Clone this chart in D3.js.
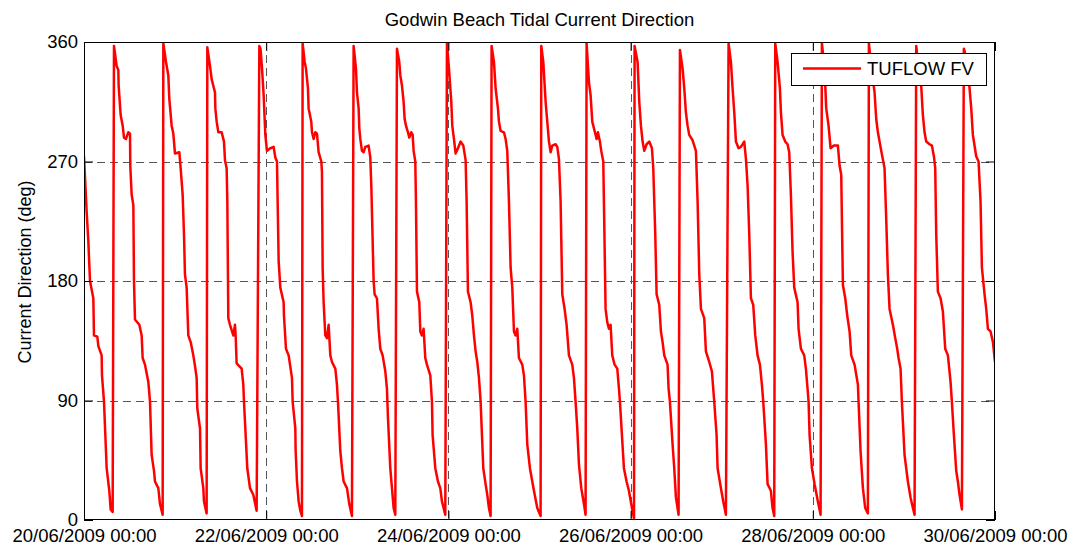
<!DOCTYPE html>
<html>
<head>
<meta charset="utf-8">
<script src="https://cdn.jsdelivr.net/npm/d3@7"></script>
<style>
  html, body { margin: 0; padding: 0; background: #fff; }
  svg { display: block; }
  text { font-family: "Liberation Sans", Arial, Helvetica, sans-serif; fill: #000; }
</style>
</head>
<body>
<svg id="chart" width="1079" height="549"></svg>
<script>
// Modelled current direction at Godwin Beach, hours after 20/06/2009 00:00
const hours = [
  0.00, 0.70, 1.14, 1.58, 2.46, 2.63, 3.51, 3.78, 4.65, 4.74, 5.27, 5.97, 6.67, 7.02, 7.55,
  7.90, 8.60, 9.04, 9.13, 9.66, 10.19, 10.54, 11.06, 11.68, 12.12, 12.20, 12.56, 13.00, 13.17, 13.43,
  14.58, 15.19, 15.45, 16.07, 16.95, 17.39, 17.82, 18.44, 18.70, 19.58, 20.02, 20.72,
  20.90, 21.60, 22.21, 22.48, 23.09, 23.53, 23.97, 25.11, 25.46, 25.99, 26.34, 26.60, 27.04, 27.48,
  28.10, 28.80, 29.24, 29.68, 29.85, 30.56, 30.73, 31.43, 31.61, 32.31,
  32.49, 33.19, 33.63, 34.51, 34.60, 34.95, 35.39, 36.26, 36.88, 37.14, 37.58, 37.76, 38.02, 38.46,
  39.34, 39.78, 39.95, 40.21, 41.53, 41.97, 42.15, 43.02, 43.73, 44.60, 45.04, 45.48,
  46.19, 46.50, 46.90, 47.33, 47.77, 48.20, 49.08, 49.96, 50.40, 50.84, 51.28, 51.72, 52.59, 52.68,
  53.21, 53.91, 54.79, 54.97, 55.67, 55.76, 56.11, 56.55, 56.99, 57.42,
  57.60, 58.13, 58.48, 59.00, 59.18, 59.88, 60.06, 60.50, 60.94, 61.38, 61.81, 62.52, 62.69, 62.87,
  63.13, 63.57, 64.01, 64.45, 64.89, 65.33, 66.21, 66.64, 66.91, 67.52, 67.96, 68.40, 69.28, 69.89, 70.59,
  71.03, 71.65, 71.91, 72.35, 72.53, 72.79, 73.23, 73.67, 74.11, 74.98, 75.42, 75.69, 76.30, 76.56,
  77.18, 77.62, 78.06, 78.67, 79.38, 79.81, 80.08, 80.69, 81.13, 81.57, 82.01,
  82.45, 83.06, 83.33, 83.77, 84.20, 84.47, 84.82, 85.35, 85.70, 86.22, 86.58, 86.84, 87.28, 87.45,
  87.72, 88.33, 88.60, 89.03, 89.47, 89.91, 90.35, 91.23, 91.67, 91.84, 92.55, 93.25, 93.86, 94.30, 95.18,
  95.62, 96.15, 96.76, 97.02, 97.46, 97.90, 98.52, 99.22, 99.92, 100.54, 100.80, 101.15, 101.85,
  102.29, 102.73, 103.17, 103.61, 104.05, 104.49, 105.19, 105.80, 106.24, 106.68, 107.12,
  107.38, 108.00, 108.44, 109.05, 109.32, 109.76, 110.63, 111.07, 111.51, 111.95, 112.39, 112.83,
  113.27, 113.71, 114.15, 114.58, 115.46, 115.90, 116.34, 116.78, 117.48, 118.10, 118.54, 119.41, 120.29,
  120.47, 121.00, 121.61, 122.05, 122.49, 122.93, 123.37, 124.24, 124.68, 125.12, 125.56, 126.00,
  126.61, 127.14, 127.76, 128.63, 129.07, 129.51, 129.95, 130.39, 131.00, 131.71, 132.14,
  132.41, 133.02, 133.46, 133.90, 134.52, 135.04, 135.39, 135.92, 136.27, 136.80, 136.97, 137.41,
  137.85, 138.29, 138.73, 139.17, 139.78, 140.49, 140.93, 141.19, 142.24, 142.94, 143.56, 144.35, 144.90,
  145.05, 145.84, 146.28, 146.72, 147.16, 147.60, 148.21, 148.92, 149.62, 149.97, 150.50, 150.85,
  151.55, 151.99, 152.43, 152.87, 153.74, 154.01, 154.36, 155.06, 155.50, 155.94, 156.64,
  157.00, 157.70, 158.14, 158.57, 159.01, 159.45, 160.33, 161.21, 161.65, 162.09, 162.53,
  163.40, 163.84, 164.72, 165.42, 165.77, 166.04, 166.65, 166.92, 167.79, 168.41, 169.11,
  169.81, 170.43, 170.87, 171.31, 171.75, 172.45, 173.06, 173.94, 174.38, 174.82, 175.26, 175.70,
  176.31, 176.84, 177.45, 178.07, 178.59, 178.95, 179.65, 180.09, 180.96, 181.40, 181.84,
  182.11, 182.72, 183.34, 183.60, 184.04, 184.74, 185.35, 185.79, 186.23, 186.67, 187.11,
  187.99, 188.25, 188.87, 189.74, 190.18, 190.62, 190.89, 191.15, 191.77, 192.47, 193.34, 194.05,
  194.40, 195.10, 195.54, 196.15, 196.68, 197.56, 198.61, 199.05, 199.49, 199.93,
  200.55, 201.07, 201.69, 202.13, 203.00, 203.88, 204.06, 204.58, 205.20, 205.81, 206.51,
  206.78, 207.39, 208.27, 208.71, 209.15, 210.03, 210.90, 211.34, 211.78, 212.22,
  213.10, 213.72, 214.24, 214.59, 215.12, 215.47, 216.17, 217.05, 217.75, 218.37, 218.81,
  219.25, 219.86, 220.56, 221.00, 221.44, 221.88, 222.76, 223.37, 223.90, 224.25, 224.52, 224.95,
  225.66, 226.27, 226.89, 227.59, 228.29, 228.64, 229.17, 229.79, 230.22, 230.66, 231.28,
  231.80, 232.68, 233.30, 233.74, 234.17, 235.05, 235.67, 236.19, 236.55, 237.25, 237.69,
  238.13, 238.83, 239.45, 240.00
];

// Current direction (degrees)
const direction = [
  274, 232, 210, 180, 167, 139, 138, 131, 124, 109, 89, 39, 22, 8, 6,
  357, 342, 339, 327, 305, 297, 288, 287, 292, 291, 266, 245, 237, 180, 151,
  147, 139, 122, 117, 104, 89, 49, 37, 29, 24, 12, 4,
  359, 345, 335, 317, 297, 291, 276, 277, 265, 245, 215, 185, 175, 139,
  134, 124, 116, 107, 84, 69, 39, 24, 14, 5,
  356, 342, 332, 322, 310, 300, 292, 292, 285, 271, 265, 240, 152, 147,
  139, 147, 139, 118, 114, 102, 89, 39, 24, 19, 13, 7,
  357, 355, 340, 320, 290, 278, 280, 281, 273, 270, 195, 175, 164, 154,
  129, 124, 107, 89, 69, 52, 29, 14, 7, 3,
  359, 345, 340, 325, 310, 300, 292, 287, 292, 291, 277, 270, 262, 190,
  164, 139, 137, 147, 124, 119, 114, 102, 89, 52, 39, 29, 24, 12, 3,
  357, 340, 322, 310, 295, 287, 278, 277, 281, 282, 273, 252, 180, 170,
  167, 144, 129, 124, 112, 99, 77, 39, 24, 9, 4,
  355, 345, 335, 327, 315, 302, 297, 292, 288, 292, 290, 278, 270, 240,
  172, 164, 142, 139, 144, 122, 117, 109, 89, 64, 39, 29, 24, 14, 4,
  359, 340, 315, 297, 287, 276, 280, 285, 282, 271, 240, 172, 164,
  154, 139, 127, 119, 107, 89, 39, 27, 19, 9, 3,
  357, 345, 325, 310, 300, 293, 292, 287, 278, 240, 190, 175,
  142, 139, 144, 122, 117, 109, 89, 57, 39, 29, 22, 9, 3,
  357, 345, 315, 300, 285, 277, 282, 283, 281, 272, 240, 170,
  159, 147, 124, 117, 107, 89, 69, 42, 24, 12, 4,
  359, 330, 320, 300, 293, 287, 292, 285, 278, 270, 240, 159,
  149, 144, 147, 124, 117, 114, 99, 89, 39, 29, 22, 9, 1,
  357, 345, 315, 297, 285, 278, 283, 285, 280, 265, 215, 170,
  162, 142, 134, 124, 117, 99, 89, 57, 39, 17, 4,
  354, 340, 325, 307, 297, 290, 286, 278, 240, 185, 159,
  152, 127, 119, 112, 99, 89, 64, 39, 24, 14, 4,
  359, 345, 325, 307, 285, 280, 281, 285, 272, 252, 215, 167,
  162, 139, 124, 117, 102, 89, 57, 27, 22, 9, 3,
  359, 345, 325, 307, 290, 285, 283, 277, 245, 202, 175,
  164, 144, 129, 124, 114, 99, 89, 64, 39, 27, 14, 4,
  359, 340, 310, 297, 280, 282, 282, 267, 260, 177,
  167, 154, 142, 124, 117, 102, 89, 52, 24, 9, 5,
  359, 342, 322, 302, 292, 278, 265, 227, 185, 159,
  147, 137, 129, 122, 114, 89, 49, 29, 17, 9, 4,
  357, 340, 327, 305, 292, 285, 283, 282, 274, 265, 215, 172,
  167, 157, 129, 124, 104, 89, 64, 37, 29, 19, 8,
  355, 345, 325, 310, 290, 274, 270, 240, 190, 170, 159,
  144, 142, 134, 119
];

const xTickDays = [20, 22, 24, 26, 28, 30];
const yTicks = [0, 90, 180, 270, 360];
const seriesName = "TUFLOW FV";
const chartTitle = "Godwin Beach Tidal Current Direction";
const yTitle = "Current Direction (deg)";

const t0 = Date.UTC(2009, 5, 20, 0, 0);
const points = hours.map((h, i) => ({ t: new Date(t0 + h * 3600e3), v: direction[i] }));
const xTickDates = xTickDays.map(d => new Date(Date.UTC(2009, 5, d, 0, 0)));

const W = 1079, H = 549;
const plot = { left: 84, right: 995, top: 42, bottom: 520 };
const fontSize = "18.5px";

const svg = d3.select("#chart");

const x = d3.scaleUtc()
  .domain([xTickDates[0], xTickDates[xTickDates.length - 1]])
  .range([plot.left, plot.right]);
const y = d3.scaleLinear().domain([0, 360]).range([plot.bottom, plot.top]);

// dashed grid
const grid = svg.append("g").attr("stroke", "#555").attr("stroke-width", 1)
  .attr("stroke-dasharray", "8,5").attr("fill", "none");
grid.selectAll("line.gx").data(xTickDates.slice(1, -1)).join("line")
  .attr("x1", d => Math.round(x(d)) + 0.5).attr("x2", d => Math.round(x(d)) + 0.5)
  .attr("y1", plot.top).attr("y2", plot.bottom);
grid.selectAll("line.gy").data(yTicks.slice(1, -1)).join("line")
  .attr("y1", d => Math.round(y(d)) + 0.5).attr("y2", d => Math.round(y(d)) + 0.5)
  .attr("x1", plot.left).attr("x2", plot.right);

// series
svg.append("clipPath").attr("id", "plotClip").append("rect")
  .attr("x", plot.left).attr("y", plot.top)
  .attr("width", plot.right - plot.left).attr("height", plot.bottom - plot.top);

const line = d3.line().x(d => x(d.t)).y(d => y(d.v));
svg.append("path").datum(points)
  .attr("clip-path", "url(#plotClip)")
  .attr("fill", "none").attr("stroke", "#ff0000").attr("stroke-width", 2.5)
  .attr("stroke-linejoin", "round")
  .attr("d", line);

// axes with inward ticks
const fmt = d3.utcFormat("%d/%m/%Y %H:%M");
const tickLen = 9;

const xAxis = svg.append("g").attr("transform", `translate(0,${plot.bottom})`)
  .call(d3.axisBottom(x).tickValues(xTickDates).tickFormat(fmt)
    .tickSizeInner(-tickLen).tickSizeOuter(0).tickPadding(9));
const xAxisTop = svg.append("g").attr("transform", `translate(0,${plot.top})`)
  .call(d3.axisTop(x).tickValues(xTickDates).tickFormat("")
    .tickSizeInner(-tickLen).tickSizeOuter(0));
const yAxis = svg.append("g").attr("transform", `translate(${plot.left},0)`)
  .call(d3.axisLeft(y).tickValues(yTicks).tickFormat(d3.format("d"))
    .tickSizeInner(-tickLen).tickSizeOuter(0).tickPadding(6));
const yAxisRight = svg.append("g").attr("transform", `translate(${plot.right},0)`)
  .call(d3.axisRight(y).tickValues(yTicks).tickFormat("")
    .tickSizeInner(-tickLen).tickSizeOuter(0));

[xAxis, xAxisTop, yAxis, yAxisRight].forEach(g => {
  g.select(".domain").remove();
  g.selectAll(".tick line").attr("stroke", "#000");
  g.selectAll("text").attr("font-size", fontSize)
    .attr("font-family", '"Liberation Sans", Arial, sans-serif').attr("fill", "#000");
});

// frame
svg.append("rect")
  .attr("x", plot.left + 0.5).attr("y", plot.top + 0.5)
  .attr("width", plot.right - plot.left - 1).attr("height", plot.bottom - plot.top - 1)
  .attr("fill", "none").attr("stroke", "#000").attr("stroke-width", 1);

// title and axis label
svg.append("text")
  .attr("x", (plot.left + plot.right) / 2).attr("y", 26)
  .attr("text-anchor", "middle").attr("font-size", fontSize)
  .text(chartTitle);

svg.append("text")
  .attr("transform", `translate(31,272) rotate(-90)`)
  .attr("text-anchor", "middle").attr("font-size", "18px")
  .text(yTitle);

// legend
const legend = svg.append("g");
legend.append("rect")
  .attr("x", 791.5).attr("y", 53.5).attr("width", 195).attr("height", 32)
  .attr("fill", "#fff").attr("stroke", "#000").attr("stroke-width", 1);
legend.append("line")
  .attr("x1", 803).attr("x2", 861).attr("y1", 68.5).attr("y2", 68.5)
  .attr("stroke", "#ff0000").attr("stroke-width", 2.5);
legend.append("text")
  .attr("x", 867).attr("y", 75).attr("font-size", fontSize)
  .text(seriesName);
</script>
</body>
</html>
